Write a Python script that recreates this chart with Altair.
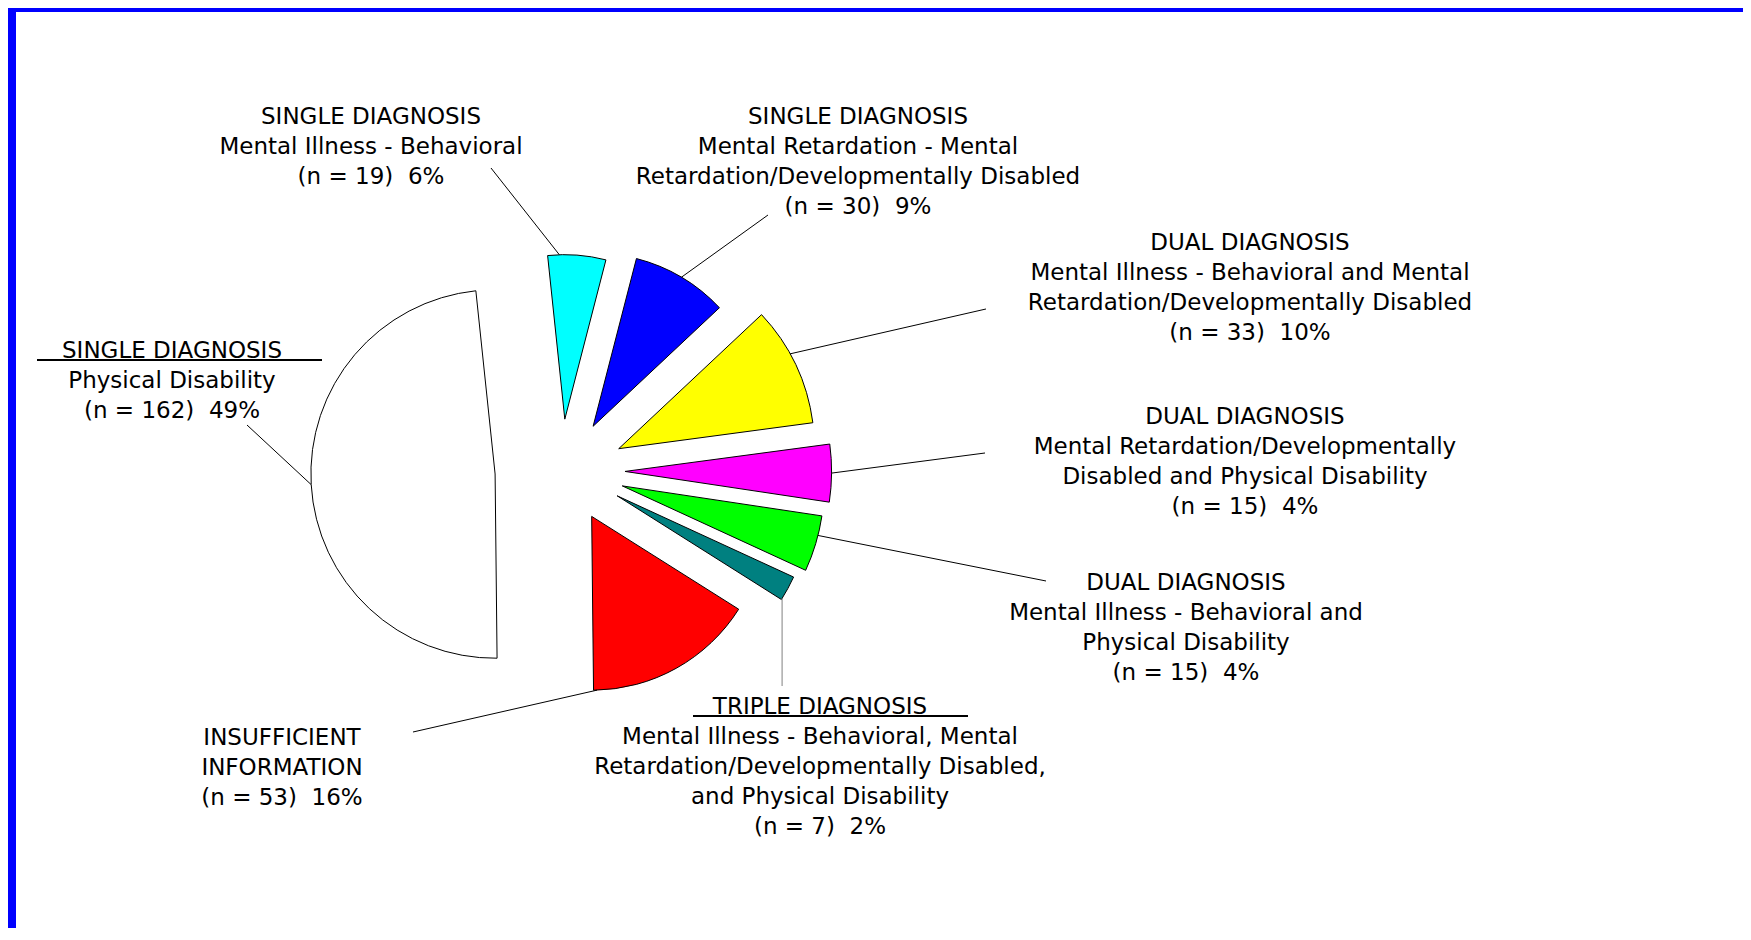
import math
import altair as alt
import pandas as pd

# ---------------- data ----------------
keys = ["MI", "MR", "MI+MR", "MR+PD", "MI+PD", "MI+MR+PD", "INSUF", "PD"]
groups = ["SINGLE DIAGNOSIS", "SINGLE DIAGNOSIS", "DUAL DIAGNOSIS", "DUAL DIAGNOSIS",
          "DUAL DIAGNOSIS", "TRIPLE DIAGNOSIS", "INSUFFICIENT", "SINGLE DIAGNOSIS"]
descriptions = [
    ["Mental Illness - Behavioral"],
    ["Mental Retardation - Mental", "Retardation/Developmentally Disabled"],
    ["Mental Illness - Behavioral and Mental", "Retardation/Developmentally Disabled"],
    ["Mental Retardation/Developmentally", "Disabled and Physical Disability"],
    ["Mental Illness - Behavioral and", "Physical Disability"],
    ["Mental Illness - Behavioral, Mental", "Retardation/Developmentally Disabled,",
     "and Physical Disability"],
    ["INFORMATION"],
    ["Physical Disability"],
]
counts = [19, 30, 33, 15, 15, 7, 53, 162]
percents = [6, 9, 10, 4, 4, 2, 16, 49]
colors = ["#00FFFF", "#0000FF", "#FFFF00", "#FF00FF", "#00FF00", "#008080", "#FF0000", "#FFFFFF"]

# ---------------- layout ----------------
W, H = 1735, 920
M = 8                      # page margin: data coords == page pixel coords
CENTER = (560, 471)
EXPLODE_X, EXPLODE_Y = 65, 52      # the original pie is stretched horizontally
SEMI_X, SEMI_Y = 207, 164
START_DEG = -6
FONT = "DejaVu Sans"
FS = 23
LH = 30
label_anchor = [(371, 117), (858, 117), (1250, 243), (1245, 417),
                (1186, 583), (820, 707), (282, 738), (172, 351)]
leader_end = [(491, 168), (768, 215), (986, 309), (985, 453),
              (1046, 581), (None, 686), (413, 732), (247, 425)]
leader_frac = [0.2, 0.5, 0.4, 0.5, 0.35, 0.95, 0.98, 0.5]
leader_color = ["black", "black", "black", "black", "black", "#808080", "black", "black"]
underline_x = {5: (693, 968), 7: (37, 322)}

# ---------------- derived geometry ----------------
total = sum(counts)
cum = [0]
for c in counts:
    cum.append(cum[-1] + c)
t0, t1 = cum[:-1], cum[1:]
start = math.radians(START_DEG)


def ang(v):
    return start + 2 * math.pi * v / total


def ell_r(phi):
    return 1.0 / math.sqrt((math.sin(phi) / SEMI_X) ** 2 + (math.cos(phi) / SEMI_Y) ** 2)


def mean_r(a0, a1, k=60):
    return sum(ell_r(a0 + (a1 - a0) * (j + 0.5) / k) for j in range(k)) / k


slices = pd.DataFrame({"key": keys, "n": counts, "t0": t0, "t1": t1})
mids = [ang((a + b) / 2) for a, b in zip(t0, t1)]
slices["cx"] = [CENTER[0] + EXPLODE_X * math.sin(m) for m in mids]
slices["cy"] = [CENTER[1] - EXPLODE_Y * math.cos(m) for m in mids]
slices["r"] = [mean_r(ang(a), ang(b)) for a, b in zip(t0, t1)]

lead_rows = []
for i in range(len(keys)):
    a = ang(t0[i] + leader_frac[i] * (t1[i] - t0[i]))
    r = slices.loc[i, "r"]
    sx = slices.loc[i, "cx"] + r * math.sin(a)
    sy = slices.loc[i, "cy"] - r * math.cos(a)
    ex, ey = leader_end[i]
    if ex is None:
        ex = sx
    lead_rows.append({"x": sx, "y": sy, "x2": ex, "y2": ey, "c": leader_color[i]})
leaders_df = pd.DataFrame(lead_rows)

text_rows = []
for i in range(len(keys)):
    lines = [groups[i]] + descriptions[i] + [f"(n = {counts[i]})\u00a0 {percents[i]}%"]
    ax, ay = label_anchor[i]
    for j, ln in enumerate(lines):
        text_rows.append({"x": ax, "y": ay + j * LH, "t": ln})
texts_df = pd.DataFrame(text_rows)

ul_rows = [{"x": underline_x[i][0], "x2": underline_x[i][1], "y": label_anchor[i][1] + 9}
           for i in underline_x]
ul_df = pd.DataFrame(ul_rows)

xs = alt.Scale(domain=[M, M + W], nice=False, zero=False)
ys = alt.Scale(domain=[M, M + H], reverse=True, nice=False, zero=False)

frame_df = pd.DataFrame({"k": ["left", "top"]})
frame_left = alt.Chart(frame_df.iloc[:1]).mark_rect(color="#0000FF").encode(
    x=alt.value(0), x2=alt.value(8), y=alt.value(0), y2=alt.value(H))
frame_top = alt.Chart(frame_df.iloc[1:]).mark_rect(color="#0000FF").encode(
    x=alt.value(0), x2=alt.value(W), y=alt.value(0), y2=alt.value(4))

arcs = alt.Chart(slices).mark_arc(stroke="black", strokeWidth=1).encode(
    x=alt.X("cx:Q", scale=xs, axis=None, stack=False),
    y=alt.Y("cy:Q", scale=ys, axis=None, stack=False),
    theta=alt.Theta("t0:Q", stack=False,
                    scale=alt.Scale(domain=[0, total], range=[start, start + 2 * math.pi])),
    theta2="t1:Q",
    radius=alt.Radius("r:Q", scale=None, stack=False),
    color=alt.Color("key:N", scale=alt.Scale(domain=keys, range=colors), legend=None),
)

leaders = alt.Chart(leaders_df).mark_rule(strokeWidth=1).encode(
    x=alt.X("x:Q", scale=xs, axis=None),
    y=alt.Y("y:Q", scale=ys, axis=None),
    x2="x2:Q", y2="y2:Q",
    color=alt.Color("c:N", scale=None),
)

underlines = alt.Chart(ul_df).mark_rule(strokeWidth=2, color="black").encode(
    x=alt.X("x:Q", scale=xs, axis=None),
    x2="x2:Q",
    y=alt.Y("y:Q", scale=ys, axis=None),
)

texts = alt.Chart(texts_df).mark_text(font=FONT, fontSize=FS, align="center",
                                      baseline="middle", color="black").encode(
    x=alt.X("x:Q", scale=xs, axis=None),
    y=alt.Y("y:Q", scale=ys, axis=None),
    text="t:N",
)

chart = alt.layer(frame_left, frame_top, arcs, leaders, underlines, texts).properties(
    width=W, height=H, padding=0, background="white"
).configure_view(stroke=None)

chart.save("out.html", embed_options={"renderer": "svg", "actions": False})
